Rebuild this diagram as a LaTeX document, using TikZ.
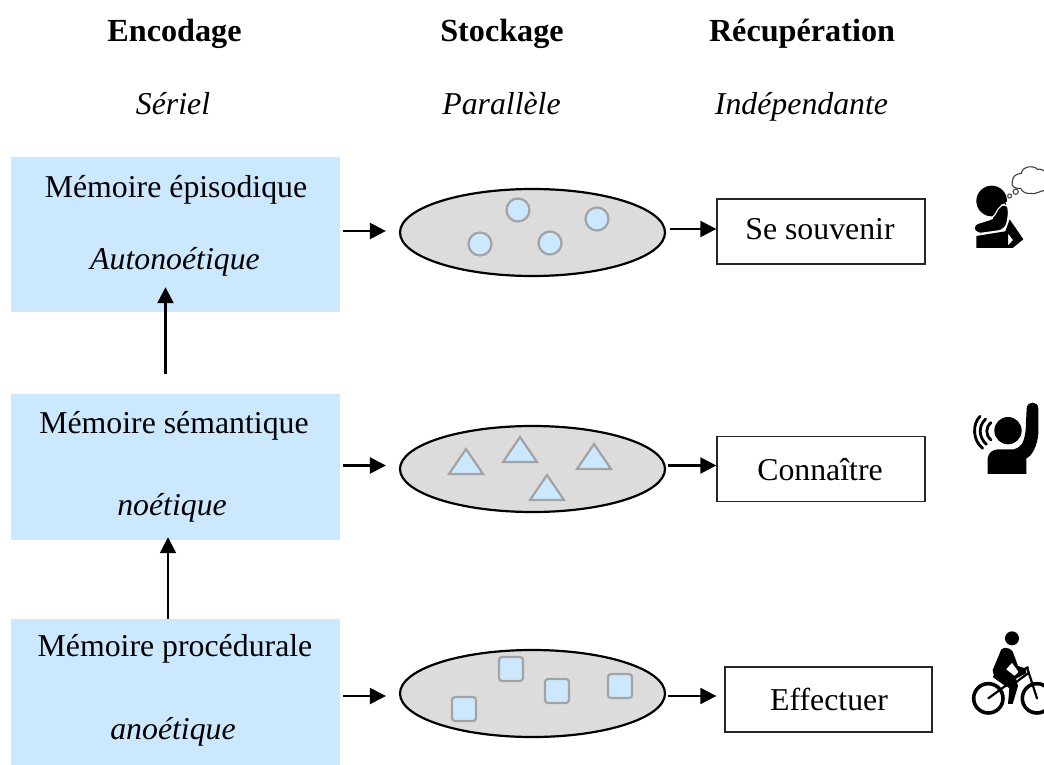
\documentclass[tikz,border=0pt]{standalone}
\usepackage{fontspec}
\setmainfont{Liberation Serif}
\usetikzlibrary{arrows.meta,shapes.geometric}
\definecolor{boxblue}{HTML}{CCE8FF}
\definecolor{ellgray}{HTML}{DCDCDC}
\definecolor{itemgray}{HTML}{A3A3A3}
\tikzset{
  lbl/.style={anchor=base,inner sep=0pt,font=\fontsize{31.8}{36}\selectfont,text=black},
  hdr/.style={lbl,font=\fontsize{32.2}{36}\selectfont\bfseries},
  sub/.style={lbl,font=\fontsize{31.8}{36}\selectfont\itshape},
  levelbox/.style={fill=boxblue,draw=none,minimum width=329pt,inner sep=0pt},
  store/.style={ellipse,draw=black,line width=2.2pt,fill=ellgray,minimum width=265pt,inner sep=0pt},
  resbox/.style={draw=black!85,line width=1.3pt,fill=white,minimum height=65pt,inner sep=0pt},
  arr/.style={line width=2.3pt,-{Triangle[length=16pt,width=16pt]}},
  dotitem/.style={circle,draw=itemgray,line width=2.2pt,fill=boxblue,minimum size=23pt,inner sep=0pt},
  squitem/.style={rectangle,rounded corners=3pt,draw=itemgray,line width=2.2pt,fill=boxblue,minimum size=24pt,inner sep=0pt},
  triitem/.style={draw=itemgray,line width=2.2pt,fill=boxblue,line join=miter},
  iconpart/.style={fill=black,draw=none},
}
\newcommand{\tritem}[2]{\path[triitem] (#1,#2) -- ++(-17,25) -- ++(34,0) -- cycle;}
\begin{document}
\begin{tikzpicture}[x=1pt,y=-1pt]
\useasboundingbox (0,0) rectangle (1044,765);
\fill[white] (0,0) rectangle (1044,765);
% headers
\node[hdr] (h1) at (174.5,42) {Encodage};
\node[hdr] (h2) at (502,42) {Stockage};
\node[hdr] (h3) at (802,42) {Récupération};
\node[sub] (s1) at (173,115) {Sériel};
\node[sub] (s2) at (501.5,115) {Parallèle};
\node[sub] (s3) at (801.5,115) {Indépendante};
% level boxes
\node[levelbox,minimum height=155pt] (b1) at (175.5,234.5) {};
\node[levelbox,minimum height=146pt] (b2) at (175.5,467) {};
\node[levelbox,minimum height=146pt] (b3) at (175.5,692) {};
\node[lbl] (t1a) at (176,197) {Mémoire épisodique};
\node[sub] (t1b) at (175,269) {Autonoétique};
\node[lbl] (t2a) at (174,433) {Mémoire sémantique};
\node[sub] (t2b) at (172,515) {noétique};
\node[lbl] (t3a) at (175,656) {Mémoire procédurale};
\node[sub] (t3b) at (173,739) {anoétique};
% stores
\node[store,minimum height=87pt] (e1) at (532.5,232.5) {};
\node[store,minimum height=86pt] (e2) at (532.5,469) {};
\node[store,minimum height=87pt] (e3) at (532.5,693.5) {};
% items
\node[dotitem] (c1) at (518,210) {};
\node[dotitem] (c2) at (597,219) {};
\node[dotitem] (c3) at (480,244) {};
\node[dotitem] (c4) at (550,243) {};
\tritem{466}{449}
\tritem{520}{437}
\tritem{594}{444}
\tritem{547}{475}
\node[squitem] (q1) at (511,669) {};
\node[squitem] (q2) at (557,691) {};
\node[squitem] (q3) at (620,686) {};
\node[squitem] (q4) at (464,709) {};
% result boxes
\node[resbox,minimum width=208pt] (r1) at (821,231.5) {};
\node[resbox,minimum width=208pt] (r2) at (821,469) {};
\node[resbox,minimum width=207pt] (r3) at (828.5,699.5) {};
\node[lbl] (x1) at (820,239.5) {Se souvenir};
\node[lbl] (x2) at (820,480) {Connaître};
\node[lbl] (x3) at (829,710.5) {Effectuer};
% connectors
\draw[arr,shorten <=3pt,shorten >=13pt] ([yshift=3.5pt]b1.east) -- ([yshift=1.5pt]e1.west);
\draw[arr,shorten <=3pt,shorten >=13pt] ([yshift=1.5pt]b2.east) -- ([yshift=3.5pt]e2.west);
\draw[arr,shorten <=3pt,shorten >=13pt] ([yshift=-4pt]b3.east) -- ([yshift=-2.5pt]e3.west);
\draw[arr,shorten <=4pt] ([yshift=3.5pt]e1.east) -- ([yshift=2.5pt]r1.west);
\draw[arr,shorten <=2pt] ([yshift=3.5pt]e2.east) -- ([yshift=3.5pt]r2.west);
\draw[arr,shorten <=2pt,shorten >=8pt] ([yshift=-2.5pt]e3.east) -- ([yshift=3.5pt]r3.west);
\draw[arr,shorten <=20pt,shorten >=-25pt] ([xshift=-10pt]b2.north) -- ([xshift=-10pt]b1.south);
\draw[arr,shorten >=-3pt] ([xshift=-7.5pt]b3.north) -- ([xshift=-7.5pt]b2.south);
% thinking icon
\begin{scope}[shift={(944,150)},x=0.3333pt,y=-0.3333pt]
\fill[iconpart] (143,153) circle[radius=46];
\path[fill=black,draw=white,line width=1.1pt,rounded corners=6pt] (86,224) -- (130,212) -- (150,203) -- (165,168) -- (188,160) -- (194,172) -- (192,210) -- (182,240) -- (95,252) -- cycle;
\fill[iconpart,even odd rule] (97,258) -- (184,244) -- (197,208) -- (238,268) -- (206,294) -- (97,294) -- cycle (192,250) -- (207,270) -- (192,287) -- cycle;
\draw[line width=1.1pt,draw=black!75] (205,95) .. controls (205,75) and (220,72) .. (232,70) .. controls (235,48) and (270,45) .. (280,58) .. controls (290,55) and (300,62) .. (310,68) -- (310,122) .. controls (290,118) and (280,135) .. (258,130) .. controls (245,132) and (235,125) .. (230,115) .. controls (218,118) and (198,110) .. (205,95);
\draw[line width=1.1pt,draw=black!70] (215,125) circle[radius=8];
\draw[line width=1.1pt,draw=black!70] (197,138) circle[radius=6];
\end{scope}
% raised hand icon
\begin{scope}[shift={(944,390)},x=0.3333pt,y=-0.3333pt]
\fill[iconpart] (192,122) circle[radius=41];
\fill[iconpart] (131,252) -- (131,205) .. controls (133,188) and (145,180) .. (160,178) -- (210,178) .. controls (228,172) and (240,165) .. (245,120) -- (248,55) .. controls (250,32) and (282,32) .. (283,55) -- (283,130) .. controls (280,170) and (262,200) .. (247,205) -- (247,252) -- cycle;
\draw[line width=2.8pt,line cap=round] (141,98) .. controls (124,112) and (124,135) .. (141,150);
\draw[line width=2.8pt,line cap=round] (125,87) .. controls (102,108) and (104,142) .. (127,163);
\draw[line width=2.8pt,line cap=round] (108,79) .. controls (85,102) and (85,150) .. (116,175);
\end{scope}
% cyclist icon
\begin{scope}[shift={(944,620)},x=0.3333pt,y=-0.3333pt]
\fill[iconpart] (204,55) circle[radius=21];
\draw[line width=3.6pt] (133,235) circle[radius=44];
\draw[line width=3.6pt] (279,235) circle[radius=44];
\fill[iconpart,even odd rule] (172,88) .. controls (190,76) and (208,90) .. (210,105) -- (222,138) -- (246,146) -- (246,160) -- (216,176) -- (222,198) -- (206,252) -- (192,252) -- (196,205) -- (176,188) -- (150,170) -- (146,150) -- cycle (186,148) -- (212,168) -- (224,156) -- (204,128) -- cycle;
\draw[line width=2.2pt,line cap=round,line join=round] (133,235) -- (192,192);
\draw[line width=2.2pt,line cap=round,line join=round] (214,188) -- (252,160);
\draw[line width=2.2pt,line cap=round,line join=round] (250,145) -- (279,235);
\draw[line width=2.2pt,line cap=round] (150,170) -- (190,198);
\draw[line width=2.2pt,line cap=round] (232,152) -- (252,142);
\end{scope}
\end{tikzpicture}
\end{document}
